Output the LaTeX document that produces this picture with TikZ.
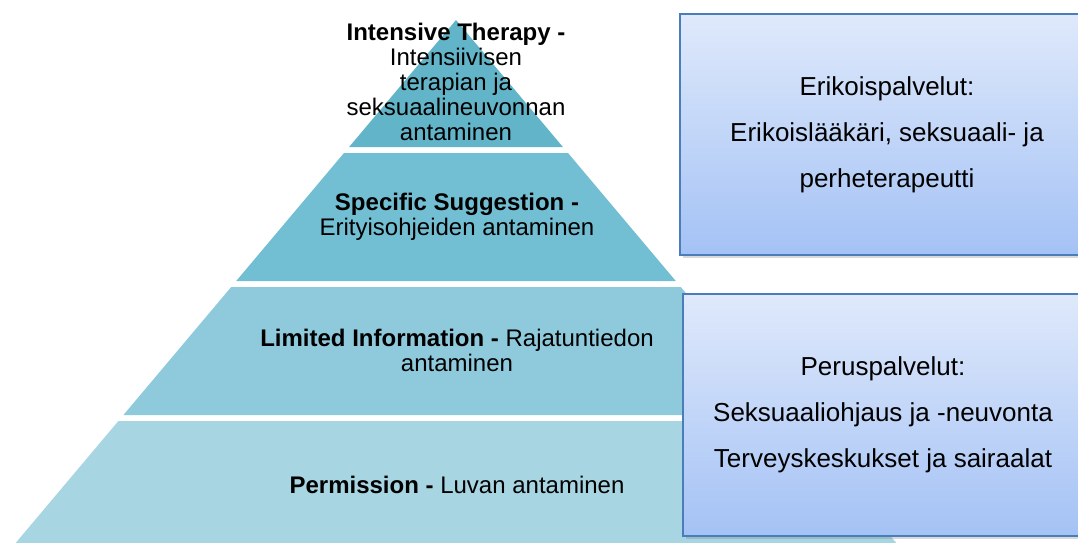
\documentclass[tikz,border=0pt]{standalone}
\usepackage{fontspec}
\setmainfont{Liberation Sans}
\usetikzlibrary{shadows}

\definecolor{tierA}{HTML}{62B4C8}
\definecolor{tierB}{HTML}{72BED2}
\definecolor{tierC}{HTML}{8ECADC}
\definecolor{tierD}{HTML}{A7D5E2}
\definecolor{boxtop}{HTML}{DFE9FB}
\definecolor{boxbot}{HTML}{A4C2F5}
\definecolor{boxline}{HTML}{4A7EBB}

\begin{document}
\begin{tikzpicture}[x=1pt, y=-1pt,
		tiertext/.style={align=center, font=\fontsize{24}{24.8}\selectfont},
		servbox/.style={draw=boxline, line width=1.3pt, top color=boxtop, bottom color=boxbot,
			drop shadow={shadow xshift=2.5pt, shadow yshift=-2.5pt, opacity=0.3},
			align=center, font=\fontsize{26}{46}\selectfont}]
		\useasboundingbox (0,0) rectangle (1078,542);
		\clip (0,0) rectangle (1078,542);
		% pyramid
		\coordinate (apex) at (456,20);
		\fill[tierA] (apex) -- (562.9,147) -- (349.1,147) -- cycle;
		\fill[tierB] (344,153) -- (568,153) -- (675.8,281) -- (236.2,281) -- cycle;
		\fill[tierC] (231.2,287) -- (680.8,287) -- (788.6,415) -- (123.4,415) -- cycle;
		\fill[tierD] (118.4,421) -- (793.6,421) -- (901.4,549) -- (10.6,549) -- cycle;
		\node[tiertext] (intensive) at (456,82) {\textbf{Intensive Therapy -}\\Intensiivisen\\terapian ja\\seksuaalineuvonnan\\antaminen};
		\node[tiertext] (specific) at (457,216.5) {\textbf{Specific Suggestion -}\\Erityisohjeiden antaminen};
		\node[tiertext] (limited) at (457,350.5) {\textbf{Limited Information -} Rajatuntiedon\\antaminen};
		\node[tiertext] (permission) at (457,485) {\textbf{Permission -} Luvan antaminen};
		% service boxes
		\node[servbox, minimum width=414, minimum height=241] (special) at (887,134.5)
			{Erikoispalvelut:\\Erikoislääkäri, seksuaali- ja\\perheterapeutti};
		\node[servbox, minimum width=400, minimum height=242] (basic) at (883,415)
			{Peruspalvelut:\\Seksuaaliohjaus ja -neuvonta\\Terveyskeskukset ja sairaalat};
		\end{tikzpicture}
\end{document}
